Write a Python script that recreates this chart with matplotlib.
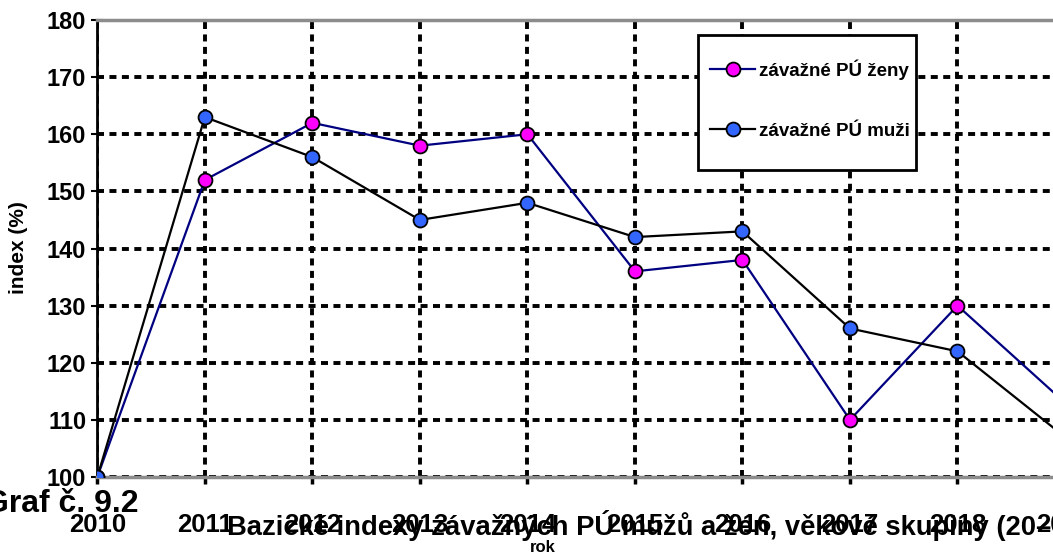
import matplotlib
matplotlib.use("Agg")
from matplotlib import pyplot as plt
from matplotlib.patches import Rectangle

plt.rcParams['font.family'] = ['Liberation Sans', 'DejaVu Sans']
plt.rcParams['font.weight'] = 'bold'

# data
years = [2010, 2011, 2012, 2013, 2014, 2015, 2016, 2017, 2018, 2019]
zeny = [100, 152, 162, 158, 160, 136, 138, 110, 130, 113]
muzi = [100, 163, 156, 145, 148, 142, 143, 126, 122, 107]
yTicks = [100, 110, 120, 130, 140, 150, 160, 170, 180]

W, H = 1053, 556
fig = plt.figure(figsize=(W / 100, H / 100), dpi=100)
# the original chart is wider than the picture, so the axes run past the right edge
ax = fig.add_axes([97.3 / W, (H - 477) / H, (1065 - 97.3) / W, (477 - 20) / H])

ax.plot(years, zeny, color='#000080', lw=1.6, marker='o', ms=10,
        mfc='#ff00ff', mec='black', mew=1.3, label='závažné PÚ ženy', zorder=4)
ax.plot(years, muzi, color='black', lw=1.6, marker='o', ms=10,
        mfc='#3366ff', mec='black', mew=1.3, label='závažné PÚ muži', zorder=4)

ax.set_xlim(2010, 2019)
ax.set_ylim(100, 180)
ax.set_xticks(years)
ax.set_yticks(yTicks)
ax.tick_params(axis='x', labelsize=18.5, length=5, width=2.5, direction='out', pad=21)
ax.tick_params(axis='y', labelsize=17, length=8, width=1.5, direction='inout', pad=4)
for lab in ax.get_xticklabels() + ax.get_yticklabels():
    lab.set_fontweight('bold')

ax.grid(True, color='black', linestyle=(0, (1.8, 1.4)), linewidth=2.8)
ax.yaxis.get_gridlines()[-1].set_visible(False)

ax.spines['left'].set_color('black')
ax.spines['left'].set_linewidth(2)
ax.spines['bottom'].set_color('#8c8c8c')
ax.spines['bottom'].set_linewidth(2.5)
ax.spines['top'].set_color('#8c8c8c')
ax.spines['top'].set_linewidth(2.5)
ax.spines['right'].set_visible(False)

# legend box drawn by hand, it is taller than matplotlib's padding allows
ax.add_patch(Rectangle((698 / W, (H - 170) / H), (916 - 698) / W, (170 - 35) / H,
                       transform=fig.transFigure, facecolor='white',
                       edgecolor='black', linewidth=2, zorder=5, clip_on=False))
leg = ax.legend(loc='upper left', bbox_to_anchor=(710 / W, (H - 59) / H),
                bbox_transform=fig.transFigure, fontsize=13.5, frameon=False,
                labelspacing=2.3, borderpad=0, handlelength=2.4,
                handletextpad=0.2, borderaxespad=0)
leg.set_zorder(6)
for t in leg.get_texts():
    t.set_fontweight('bold')

fig.text(18 / W, (H - 248) / H, 'index (%)', rotation=90, ha='center',
         va='center', fontsize=15, fontweight='bold')
fig.text(543 / W, (H - 548) / H, 'rok', ha='center', va='center',
         fontsize=12, fontweight='bold')
fig.text(138 / W, (H - 512) / H, 'Graf č. 9.2', ha='right', va='baseline',
         fontsize=23, fontweight='bold')
fig.text(227 / W, (H - 535) / H,
         'Bazické indexy závažných PÚ mužů a žen, věkové skupiny (20–64 let)',
         ha='left', va='baseline', fontsize=19.7, fontweight='bold')

fig.savefig('out.png', dpi=100)
